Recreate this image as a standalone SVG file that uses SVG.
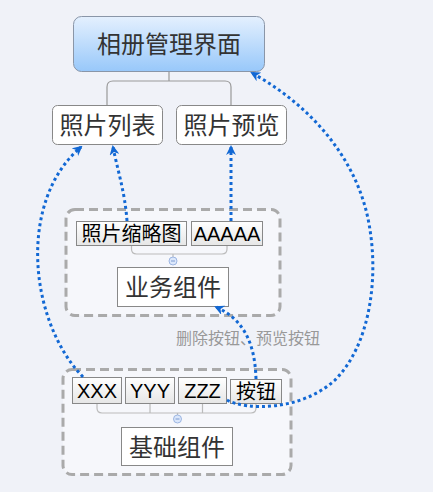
<svg xmlns="http://www.w3.org/2000/svg" width="448" height="492" viewBox="0 0 448 492">
<defs>
<linearGradient id="rootGrad" x1="0" y1="0" x2="0" y2="1">
<stop offset="0" stop-color="#e4f0fe"/>
<stop offset="1" stop-color="#98c8fa"/>
</linearGradient>
<linearGradient id="chipGrad" x1="0" y1="0" x2="0" y2="1">
<stop offset="0" stop-color="#ffffff"/>
<stop offset="1" stop-color="#e6e6e6"/>
</linearGradient>
<marker id="arr" viewBox="0 0 10 10" refX="8" refY="5" markerWidth="10" markerHeight="10" markerUnits="userSpaceOnUse" orient="auto">
<path d="M0,0 L10,5 L0,10 L3,5 Z" fill="#1268d4"/>
</marker>
</defs>
<style>
text{font-family:"Liberation Sans","Noto Sans CJK SC",sans-serif;text-anchor:middle}
.big{font-size:24px;fill:#333}
.mid{font-size:20px;fill:#000}
.lbl{font-size:16px;fill:#999}
.topic{fill:#fff;stroke:#888;stroke-width:1}
.chip{fill:url(#chipGrad);stroke:#888;stroke-width:1}
.group{fill:#f6f7fb;stroke:#aaa;stroke-width:3;stroke-dasharray:9 5}
.br{fill:none;stroke:#bbb;stroke-width:1.2}
.br2{fill:none;stroke:#999;stroke-width:1.2}
.col{fill:#dbe7fb;stroke:#9db6e2;stroke-width:1}
.link{fill:none;stroke:#1268d4;stroke-width:3;stroke-dasharray:3 3;marker-end:url(#arr)}
</style>
<rect x="0" y="0" width="433" height="492" fill="#f0f2f8"/>

<g id="group-business">
<rect class="group" x="66" y="209.5" width="214" height="106" rx="9"/>
</g>
<g id="group-base">
<rect class="group" x="63" y="369.5" width="228" height="105" rx="9"/>
</g>

<g id="brackets">
<path class="br2" d="M169,71 V81 M107,105 V87 Q107,81 113,81 H225 Q231,81 231,87 V105"/>
<path class="br" d="M131.5,245 V249 Q131.5,254 136.5,254 H222 Q227,254 227,249 V245 M173,254 V257"/>
<path class="br" d="M97,404 V408 Q97,413 102,413 H251 Q256,413 256,408 V404 M150,404 V413 M202.5,404 V413 M177.5,413 V415"/>
</g>

<g id="root">
<rect x="73.5" y="16.5" width="191" height="55" rx="8" fill="url(#rootGrad)" stroke="#8a96a8" stroke-width="1"/>
<text class="big" x="169" y="52.5">相册管理界面</text>
</g>
<g id="photo-list">
<rect class="topic" x="52.5" y="105.5" width="110" height="39" rx="5"/>
<text class="big" x="107.5" y="133.5">照片列表</text>
</g>
<g id="photo-preview">
<rect class="topic" x="176.5" y="105.5" width="110" height="39" rx="5"/>
<text class="big" x="231.5" y="133.5">照片预览</text>
</g>

<g id="thumb">
<rect class="chip" x="76.5" y="221.5" width="110" height="24"/>
<text class="mid" x="131.5" y="240.5">照片缩略图</text>
</g>
<g id="aaaaa">
<rect class="chip" x="191.5" y="221.5" width="71" height="24"/>
<text class="mid" x="227" y="240.5">AAAAA</text>
</g>
<g id="collapse-1">
<circle class="col" cx="173" cy="261" r="4"/>
<path d="M171,261 H175" stroke="#7d9bd0" stroke-width="1"/>
</g>
<g id="business">
<rect class="topic" x="117.5" y="267.5" width="111" height="39"/>
<text class="big" x="173" y="296">业务组件</text>
</g>

<g id="xxx">
<rect class="chip" x="72.5" y="377.5" width="49" height="26"/>
<text class="mid" x="97" y="398">XXX</text>
</g>
<g id="yyy">
<rect class="chip" x="125.5" y="377.5" width="49" height="26"/>
<text class="mid" x="150" y="398">YYY</text>
</g>
<g id="zzz">
<rect class="chip" x="178.5" y="377.5" width="48" height="26"/>
<text class="mid" x="202.5" y="398">ZZZ</text>
</g>
<g id="button">
<rect class="chip" x="230.5" y="379.5" width="51" height="24"/>
<text class="mid" x="256" y="399">按钮</text>
</g>
<g id="collapse-2">
<circle class="col" cx="177.5" cy="419" r="4"/>
<path d="M175.5,419 H179.5" stroke="#7d9bd0" stroke-width="1"/>
</g>
<g id="base">
<rect class="topic" x="121.5" y="427.5" width="111" height="38"/>
<text class="big" x="177" y="455.5">基础组件</text>
</g>

<g id="connectors">
<path class="link" d="M127,221 C125,192 117,168 113,147"/>
<path class="link" d="M231,221 L231,147"/>
<path class="link" d="M83,377 C28,320 18,200 81,147"/>
<path class="link" d="M256,379 C255,345 245,320 216,307"/>
<path class="link" d="M227,400 C245,410 300,412 335,380 C370,345 378,280 370,230 C360,160 310,105 252,73"/>
</g>
<g id="label">
<text class="lbl" x="248" y="344" stroke="#f0f2f8" stroke-width="3" stroke-opacity="0.6" paint-order="stroke">删除按钮、预览按钮</text>
</g>
</svg>
